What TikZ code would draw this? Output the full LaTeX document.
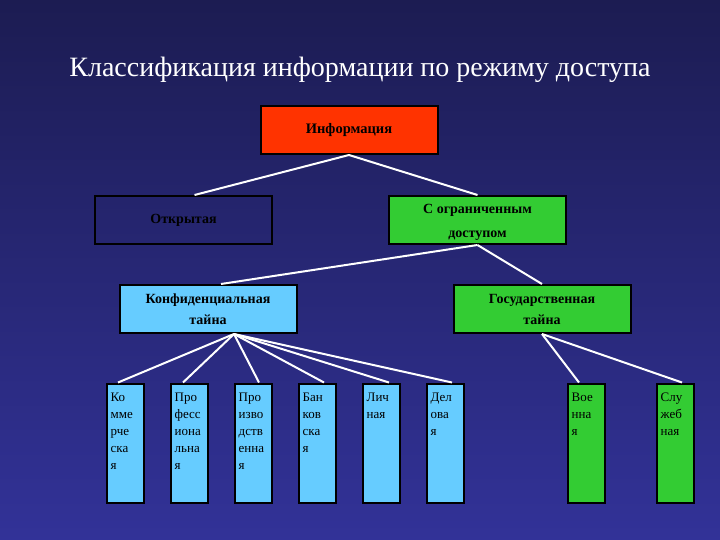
\documentclass[tikz,border=0pt]{standalone}
\usepackage{fontspec}
\setmainfont{Liberation Serif}

\begin{document}
\begin{tikzpicture}[x=1pt,y=-1pt]
\definecolor{bgtop}{RGB}{28,28,82}
\definecolor{bgbot}{RGB}{50,50,152}
\definecolor{redbox}{RGB}{255,51,0}
\definecolor{greenbox}{RGB}{51,204,51}
\definecolor{bluebox}{RGB}{102,204,255}
\tikzset{box/.style={draw=black,line width=2pt,inner sep=0pt,align=center,
                     minimum width=177pt,minimum height=48pt,
                     font=\fontsize{14}{21}\selectfont\bfseries},
         leaf/.style={draw=black,line width=2pt,inner sep=0pt,
                      minimum width=37pt,minimum height=119pt},
         leaftext/.style={anchor=north west,inner sep=0pt,align=left,
                          font=\fontsize{13}{17}\selectfont},
         link/.style={draw=white,line width=2pt}}

% background and title
\shade[top color=bgtop,bottom color=bgbot] (0,0) rectangle (720,540);
\node[text=white,font=\fontsize{28}{28}\selectfont] (title) at (360,70)
    {Классификация информации по режиму доступа};

% upper levels
\node[box,fill=redbox,font=\fontsize{14.5}{21}\selectfont\bfseries] (info) at (349,130) {Информация};
\node[box] (open) at (183.5,220) {Открытая};
\node[box,fill=greenbox,font=\fontsize{14}{24}\selectfont\bfseries] (restr) at (477.5,220) {\rule{0pt}{14pt}С ограниченным\\доступом};
\node[box,fill=bluebox] (konf) at (208,309) {Конфиденциальная\\тайна};
\node[box,fill=greenbox] (gos) at (542,309) {Государственная\\тайна};

\draw[link] (info.south) -- ([xshift=11pt]open.north);
\draw[link] (info.south) -- (restr.north);
\draw[link] (restr.south) -- ([xshift=13pt]konf.north);
\draw[link] (restr.south) -- (gos.north);

% kinds of secret: name / centre / fill / text
\foreach \n/\x/\c/\t in {kom/125/bluebox/{Ко\\мме\\рче\\ска\\я},
                          prof/189/bluebox/{Про\\фесс\\иона\\льна\\я},
                          proizv/253/bluebox/{Про\\изво\\дств\\енна\\я},
                          bank/317/bluebox/{Бан\\ков\\ска\\я},
                          lich/381/bluebox/{Лич\\ная},
                          del/445/bluebox/{Дел\\ова\\я},
                          voen/586/greenbox/{Вое\\нна\\я},
                          sluzh/675/greenbox/{Слу\\жеб\\ная}}
{
    \node[leaf,fill=\c] (\n) at (\x,443) {};
    \node[leaftext] (\n-t) at ([shift={(5pt,-10pt)}]\n.north west) {\t};
}

% links to the kinds, ends shifted along the top edges
\foreach \n/\d in {kom/-7,prof/-6,proizv/6,bank/7,lich/8,del/7}
    \draw[link] ([xshift=26pt]konf.south) -- ([xshift=\d pt]\n.north);
\foreach \n/\d in {voen/-7,sluzh/7}
    \draw[link] (gos.south) -- ([xshift=\d pt]\n.north);
\end{tikzpicture}
\end{document}
